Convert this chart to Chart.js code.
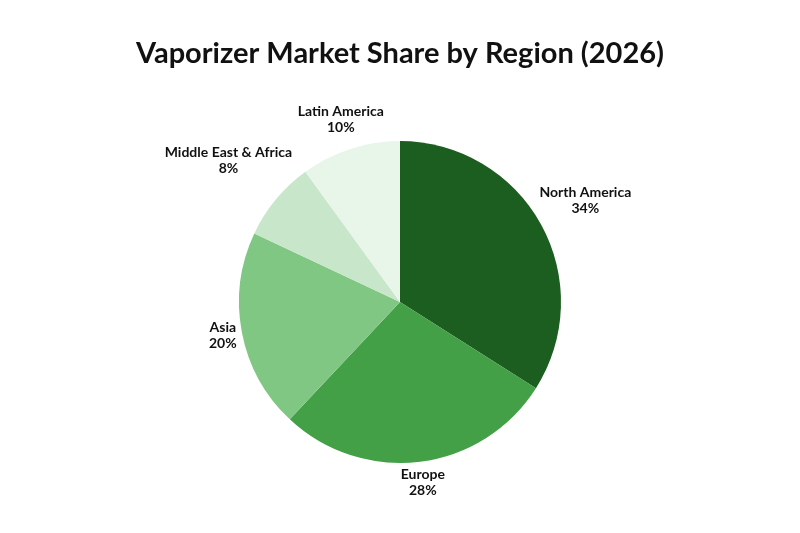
<!DOCTYPE html>
<html>
<head>
<meta charset="utf-8">
<script src="https://cdn.jsdelivr.net/npm/chart.js@4.4.1/dist/chart.umd.min.js"></script>
<style>
  html, body { margin: 0; padding: 0; background: #ffffff; }
  #wrap { width: 800px; height: 533px; }
</style>
</head>
<body>
<div id="wrap"><canvas id="pieChart" width="800" height="533"></canvas></div>
<script>
// ========== DATA ==========
const regions = ["North America", "Europe", "Asia", "Middle East & Africa", "Latin America"];
const shares = [34, 28, 20, 8, 10];
const sliceColors = ["#1b5e20", "#43a047", "#81c784", "#c8e6c9", "#e8f5e9"];
const chartTitle = "Vaporizer Market Share by Region (2026)";

const FONT = "Lato, 'Open Sans', sans-serif";

// title drawn at top of canvas
const titlePlugin = {
  id: "titleText",
  afterDraw(chart) {
    const ctx = chart.ctx;
    ctx.save();
    ctx.fillStyle = "#111111";
    ctx.font = "bold 29px " + FONT;
    ctx.textAlign = "center";
    ctx.textBaseline = "middle";
    ctx.fillText(chartTitle, chart.width / 2, 54);
    ctx.restore();
  },
};

// outside labels: name + percent, pushed out along the mid angle
const outsideLabels = {
  id: "outsideLabels",
  afterDatasetsDraw(chart) {
    const ctx = chart.ctx;
    const meta = chart.getDatasetMeta(0);
    const total = shares.reduce((a, b) => a + b, 0);
    ctx.save();
    ctx.fillStyle = "#111111";
    ctx.font = "bold 14px " + FONT;
    ctx.textAlign = "center";
    ctx.textBaseline = "middle";
    meta.data.forEach((arc, i) => {
      const mid = (arc.startAngle + arc.endAngle) / 2;
      const dx = Math.cos(mid);
      const dy = Math.sin(mid);
      const pct = Math.round((shares[i] / total) * 100) + "%";
      const w = Math.max(ctx.measureText(regions[i]).width, ctx.measureText(pct).width);
      const h = 30;
      const dist = arc.outerRadius + 3 + Math.abs(dx) * w / 2 + Math.abs(dy) * h / 2;
      const x = arc.x + dx * dist;
      const y = arc.y + dy * dist;
      ctx.fillText(regions[i], x, y - 8);
      ctx.fillText(pct, x, y + 8);
    });
    ctx.restore();
  },
};

new Chart(document.getElementById("pieChart"), {
  type: "pie",
  data: {
    labels: regions,
    datasets: [
      {
        data: shares,
        backgroundColor: sliceColors,
        borderWidth: 0,
      },
    ],
  },
  options: {
    responsive: false,
    animation: false,
    layout: { padding: { top: 141, bottom: 70, left: 239, right: 239 } },
    plugins: {
      legend: { display: false },
      tooltip: { enabled: false },
    },
  },
  plugins: [titlePlugin, outsideLabels],
});
</script>
</body>
</html>
